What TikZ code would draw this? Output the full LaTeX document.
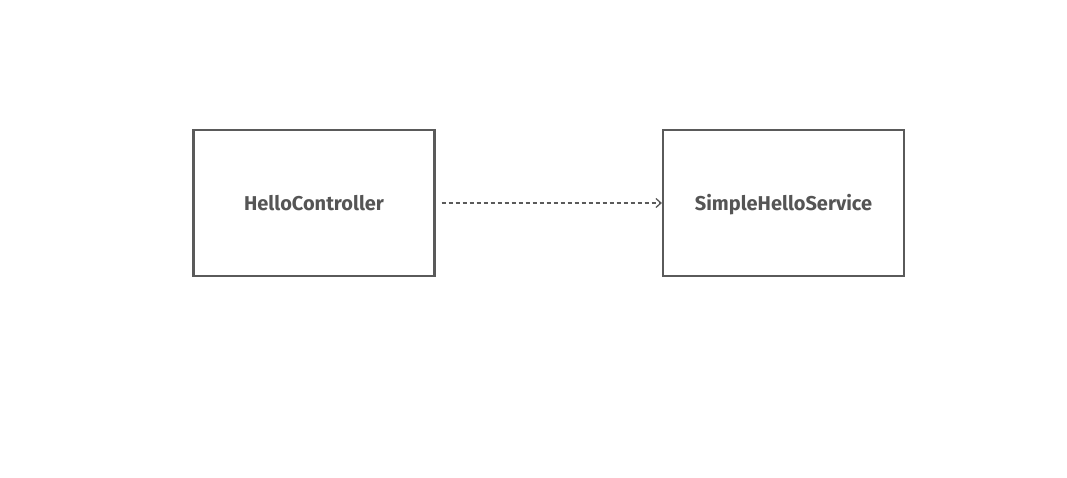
\documentclass[tikz,border=0pt]{standalone}
\usepackage{fontspec}
\setmainfont{Fira Sans}
\usetikzlibrary{arrows.meta}
\definecolor{ink}{HTML}{5A5A5A}
\begin{document}
\begin{tikzpicture}[x=1pt,y=-1pt,
  box/.style={draw=ink,line width=2.2pt,minimum width=241pt,minimum height=146pt,inner sep=0pt,
    text height=19pt,text depth=4pt,
    font=\fontsize{20}{24}\selectfont\bfseries,text=ink!95!black},
  dep/.style={draw=ink,line width=1.3pt,dash pattern=on 4pt off 3pt,-{Straight Barb[length=5pt,width=9pt,line width=1.3pt]}}]
\useasboundingbox[fill=white] (0,0) rectangle (1067,477);
\node[box] (hc) at (314,203) {HelloController};
\node[box] (shs) at (783.5,203) {SimpleHelloService};
\draw[dep,shorten <=6pt] (hc.east) -- (shs.west);
\end{tikzpicture}
\end{document}
